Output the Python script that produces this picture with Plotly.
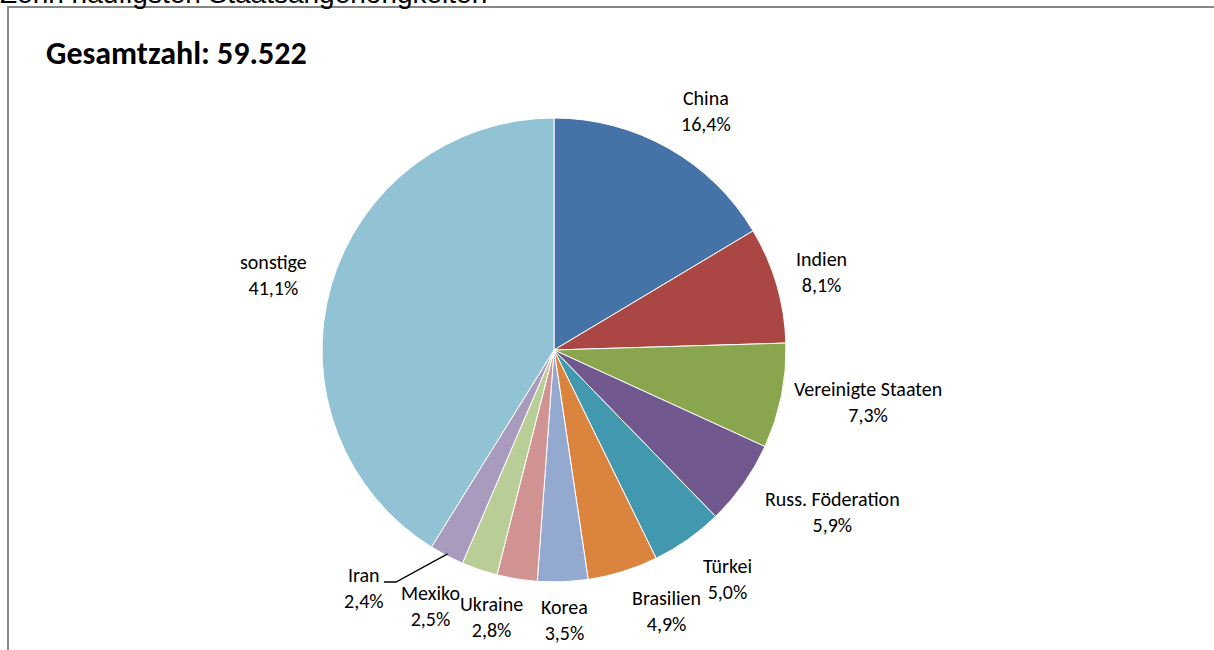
import math
import plotly.graph_objects as go

# Ten most frequent nationalities (share of total, %)
countries = ["China", "Indien", "Vereinigte Staaten", "Russ. Föderation", "Türkei",
             "Brasilien", "Korea", "Ukraine", "Mexiko", "Iran", "sonstige"]
shares = [16.4, 8.1, 7.3, 5.9, 5.0, 4.9, 3.5, 2.8, 2.5, 2.4, 41.1]
colors = ["#4572A7", "#AA4643", "#89A54E", "#71588F", "#4198AF", "#DB843D",
          "#93A9CF", "#D19392", "#B9CD96", "#A99BBD", "#92C3D4"]
total_label = "Gesamtzahl: 59.522"
heading = "Zehn häufigsten Staatsangehörigkeiten"

W, H = 1214, 650
cx, cy, R = 554, 350, 232  # pie centre and radius in pixels

# label distance from centre (pixels) and angular nudge (degrees) per slice
label_dist = [283, 279, 318, 322, 287, 284, 270, 274, 284, 305, 290]
label_nudge = [3, 0, -2, -5, -2, -6, 0, 4, 7, 11, -1]

FONT = "Carlito, Lato, sans-serif"

def px(x):
    return x / W

def py(y):
    return 1 - y / H

fig = go.Figure(go.Pie(
    labels=countries,
    values=shares,
    sort=False,
    direction="clockwise",
    rotation=0,
    marker=dict(colors=colors, line=dict(color="white", width=1)),
    textinfo="none",
    hoverinfo="label+percent",
    showlegend=False,
    domain=dict(x=[px(cx - R), px(cx + R)], y=[py(cy + R), py(cy - R)]),
))

annotations = []
cum = 0.0
tot = sum(shares)
for i, (name, v) in enumerate(zip(countries, shares)):
    mid = (cum + v / 2) / tot * 360 + label_nudge[i]
    cum += v
    a = math.radians(mid)
    lx = cx + label_dist[i] * math.sin(a)
    ly = cy - label_dist[i] * math.cos(a)
    pct = f"{v:.1f}".replace(".", ",") + "%"
    annotations.append(dict(
        x=px(lx), y=py(ly), xref="paper", yref="paper",
        text=f"{name}<br>{pct}", showarrow=False,
        font=dict(family=FONT, size=20, color="#000000"),
        xanchor="center", yanchor="middle", align="center",
    ))

annotations.append(dict(
    x=px(44), y=py(53), xref="paper", yref="paper", text=f"<b>{total_label}</b>",
    showarrow=False, xanchor="left", yanchor="middle",
    font=dict(family=FONT, size=32, color="#000000"),
))
annotations.append(dict(
    x=px(-2), y=py(11), xref="paper", yref="paper", text=heading,
    showarrow=False, xanchor="left", yanchor="bottom",
    font=dict(family="Liberation Sans, Arial, sans-serif", size=28, color="#000000"),
))

# leader line for the small Iran slice
iran_i = countries.index("Iran")
iran_mid = (sum(shares[:iran_i]) + shares[iran_i] / 2) / tot * 2 * math.pi
ex = cx + (R - 2) * math.sin(iran_mid)
ey = cy - (R - 2) * math.cos(iran_mid)

shapes = [
    dict(type="rect", xref="paper", yref="paper", x0=px(8), y0=py(7), x1=px(W + 10), y1=py(H + 10),
         line=dict(color="#878787", width=2), fillcolor="rgba(0,0,0,0)"),
    dict(type="path", xref="paper", yref="paper",
         path=f"M {px(ex)} {py(ey)} L {px(396)} {py(582)} L {px(384)} {py(582)}",
         line=dict(color="#000000", width=1.3)),
]

fig.update_layout(
    width=W, height=H,
    margin=dict(l=0, r=0, t=0, b=0),
    paper_bgcolor="white", plot_bgcolor="white",
    annotations=annotations, shapes=shapes,
)

fig.write_html("out.html")
